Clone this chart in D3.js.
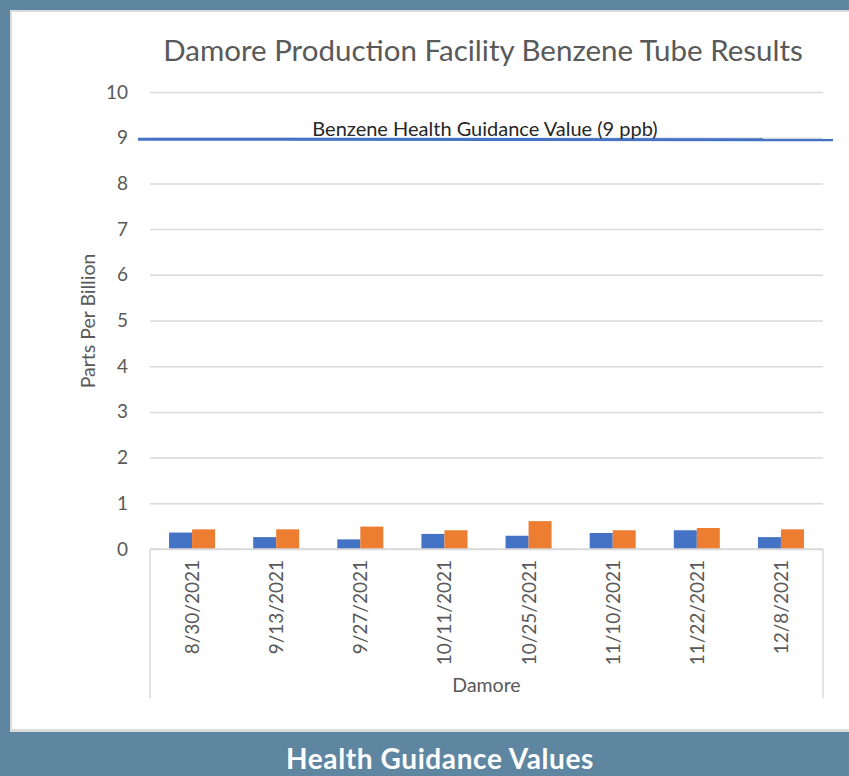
<!DOCTYPE html>
<html>
<head>
<meta charset="utf-8">
<script src="https://cdn.jsdelivr.net/npm/d3@7"></script>
<style>
  html, body { margin: 0; padding: 0; background: #5e86a1; }
  svg { display: block; }
</style>
</head>
<body>
<svg id="chart" width="849" height="776"></svg>
<script>
const categories = ["8/30/2021", "9/13/2021", "9/27/2021", "10/11/2021", "10/25/2021", "11/10/2021", "11/22/2021", "12/8/2021"];
const seriesNames = ["Series 1", "Series 2"];
const series1 = [0.36, 0.26, 0.21, 0.33, 0.29, 0.35, 0.41, 0.26];
const series2 = [0.43, 0.43, 0.49, 0.41, 0.61, 0.41, 0.46, 0.43];
const yTicks = [0, 1, 2, 3, 4, 5, 6, 7, 8, 9, 10];
const guidanceValue = 9;
const guidanceLabel = "Benzene Health Guidance Value (9 ppb)";
const chartTitle = "Damore Production Facility Benzene Tube Results";
const yTitle = "Parts Per Billion";
const groupLabel = "Damore";
const footer = "Health Guidance Values";
const colors = ["#4472c4", "#ed7d31"];

(function () {
const svg = d3.select("#chart");
const font = "Lato, 'Open Sans', sans-serif";

// background panel
svg.append("rect").attr("x", 0).attr("y", 0).attr("width", 849).attr("height", 776).attr("fill", "#5e86a1");
svg.append("rect").attr("x", 10).attr("y", 10).attr("width", 860).attr("height", 722).attr("fill", "#dcdcdc");
svg.append("rect").attr("x", 12).attr("y", 12).attr("width", 860).attr("height", 717).attr("fill", "#ffffff");

const pL = 150, pR = 823, pT = 92, pB = 549;
const x = d3.scaleBand().domain(categories).range([pL, pR]).padding(0);
const y = d3.scaleLinear().domain([0, 10]).range([pB, pT]);
const groupFrac = 0.547;
const xs = d3.scaleBand().domain(seriesNames).range([0, x.bandwidth() * groupFrac]).padding(0);

// gridlines
const yAxis = d3.axisLeft(y).tickValues(yTicks).tickSize(-(pR - pL)).tickPadding(22);
const gy = svg.append("g").attr("transform", `translate(${pL},0)`).call(yAxis);
gy.select(".domain").remove();
gy.selectAll(".tick line").attr("stroke", "#d9d9d9").attr("stroke-width", 1.5);
gy.selectAll(".tick text").attr("fill", "#595959").style("font-family", font).style("font-size", "19px");

// bars
const data = categories.map((c, i) => ({ cat: c, vals: [series1[i], series2[i]] }));
const groups = svg.append("g").selectAll("g").data(data).join("g")
  .attr("transform", d => `translate(${x(d.cat) + x.bandwidth() * (1 - groupFrac) / 2},0)`);
groups.selectAll("rect").data(d => d.vals.map((v, k) => ({ k, v }))).join("rect")
  .attr("x", d => xs(seriesNames[d.k]))
  .attr("width", xs.bandwidth())
  .attr("y", d => y(d.v))
  .attr("height", d => y(0) - y(d.v))
  .attr("fill", d => colors[d.k]);

// baseline and category frame
svg.append("line").attr("x1", pL).attr("x2", pR).attr("y1", y(0)).attr("y2", y(0))
  .attr("stroke", "#d9d9d9").attr("stroke-width", 1.5);
[pL, pR].forEach(xx => {
  svg.append("line").attr("x1", xx).attr("x2", xx).attr("y1", y(0)).attr("y2", 698)
    .attr("stroke", "#d9d9d9").attr("stroke-width", 1.5);
});

// category labels
svg.append("g").selectAll("text").data(categories).join("text")
  .attr("transform", d => `translate(${x(d) + x.bandwidth() / 2 + 7},${y(0) + 11}) rotate(-90)`)
  .attr("text-anchor", "end")
  .attr("fill", "#595959").style("font-family", font).style("font-size", "19px")
  .text(d => d);

svg.append("text").attr("x", (pL + pR) / 2).attr("y", 692).attr("text-anchor", "middle")
  .attr("fill", "#595959").style("font-family", font).style("font-size", "19.5px").text(groupLabel);

// y title
svg.append("text").attr("transform", `translate(95,321) rotate(-90)`).attr("text-anchor", "middle")
  .attr("fill", "#595959").style("font-family", font).style("font-size", "19.5px").text(yTitle);

// title
svg.append("text").attr("x", 483).attr("y", 61).attr("text-anchor", "middle")
  .attr("fill", "#595959").style("font-family", font).style("font-size", "29.5px").text(chartTitle);

// guidance line
svg.append("line").attr("x1", 138).attr("x2", 833).attr("y1", y(guidanceValue) + 1.5).attr("y2", y(guidanceValue) + 2)
  .attr("stroke", "#4472c4").attr("stroke-width", 3);
svg.append("text").attr("x", 485).attr("y", y(guidanceValue) - 1.5).attr("text-anchor", "middle")
  .attr("fill", "#262626").style("font-family", font).style("font-size", "20px").text(guidanceLabel);

// footer
svg.append("text").attr("x", 440).attr("y", 769).attr("text-anchor", "middle")
  .attr("fill", "#ffffff").style("font-family", font).style("font-weight", "bold").style("font-size", "28px")
  .style("letter-spacing", "0.6px").text(footer);
})();
</script>
</body>
</html>
